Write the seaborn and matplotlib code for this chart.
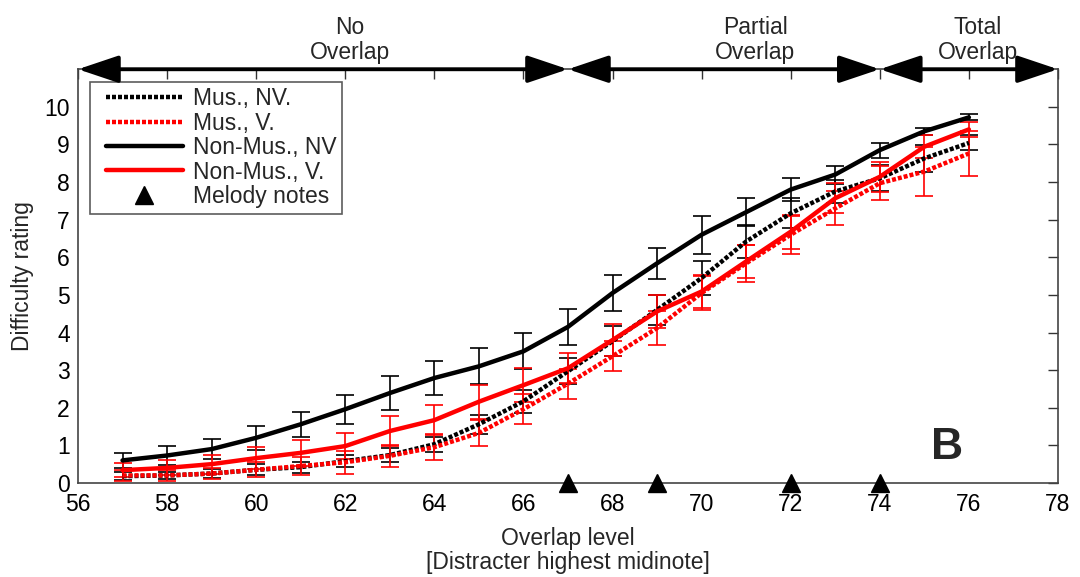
import numpy as np
import pandas as pd
import matplotlib
matplotlib.use("Agg")
import matplotlib.pyplot as plt
from matplotlib.lines import Line2D
from matplotlib.legend_handler import HandlerLine2D
import seaborn as sns

# ---- data ----
overlap = [57, 58, 59, 60, 61, 62, 63, 64, 65, 66, 67, 68, 69, 70, 71, 72, 73, 74, 75, 76]

mus_nv = [0.18, 0.2, 0.25, 0.35, 0.42, 0.58, 0.74, 1.03, 1.56, 2.17, 2.97, 3.77, 4.6, 5.45, 6.42, 7.17, 7.75, 8.1, 8.63, 9.04]
mus_nv_err = [0.1, 0.1, 0.12, 0.15, 0.15, 0.15, 0.18, 0.2, 0.25, 0.3, 0.35, 0.4, 0.4, 0.45, 0.45, 0.4, 0.3, 0.35, 0.35, 0.2]

mus_v = [0.2, 0.2, 0.25, 0.35, 0.45, 0.55, 0.72, 0.95, 1.33, 1.96, 2.64, 3.37, 4.12, 5.05, 5.84, 6.6, 7.3, 7.97, 8.28, 8.76]
mus_v_err = [0.15, 0.15, 0.15, 0.2, 0.25, 0.3, 0.3, 0.35, 0.35, 0.4, 0.4, 0.4, 0.45, 0.45, 0.5, 0.5, 0.45, 0.45, 0.65, 0.6]

nonmus_nv = [0.6, 0.73, 0.9, 1.2, 1.56, 1.96, 2.39, 2.79, 3.1, 3.5, 4.15, 5.05, 5.84, 6.6, 7.2, 7.8, 8.2, 8.85, 9.35, 9.72]
nonmus_nv_err = [0.19, 0.26, 0.27, 0.32, 0.33, 0.38, 0.46, 0.46, 0.48, 0.48, 0.48, 0.47, 0.42, 0.5, 0.38, 0.31, 0.24, 0.2, 0.1, 0.08]

nonmus_v = [0.34, 0.4, 0.5, 0.66, 0.8, 0.98, 1.38, 1.67, 2.16, 2.6, 3.05, 3.8, 4.56, 5.09, 5.89, 6.68, 7.57, 8.14, 8.94, 9.4]
nonmus_v_err = [0.18, 0.2, 0.25, 0.3, 0.35, 0.35, 0.4, 0.4, 0.45, 0.45, 0.4, 0.43, 0.45, 0.45, 0.45, 0.45, 0.4, 0.4, 0.3, 0.2]

melody_notes = [67, 69, 72, 74]

regions = ["No\nOverlap", "Partial\nOverlap", "Total\nOverlap"]
region_bounds = [(56, 67), (67, 74), (74, 78)]
region_label_x = [62.1, 71.2, 76.2]

series_names = ["Mus., NV.", "Mus., V.", "Non-Mus., NV", "Non-Mus., V."]
series_vals = [mus_nv, mus_v, nonmus_nv, nonmus_v]
series_errs = [mus_nv_err, mus_v_err, nonmus_nv_err, nonmus_v_err]
series_colors = ["black", "#ff0000", "black", "#ff0000"]
series_dotted = [True, True, False, False]

# ---- style ----
sns.set_theme(style="white")
plt.rcParams['font.family'] = ['Liberation Sans', 'DejaVu Sans']

fig = plt.figure(figsize=(10.8, 5.77), dpi=100)
ax = fig.add_axes([0.0722, 0.163, 0.9074, 0.717])

for name, vals, errs, col, dotted in zip(series_names, series_vals, series_errs, series_colors, series_dotted):
    ax.errorbar(overlap, vals, yerr=errs, fmt='none', ecolor=col, elinewidth=1.2,
                capsize=6.5, capthick=1.2, zorder=2)
for name, vals, errs, col, dotted in zip(series_names, series_vals, series_errs, series_colors, series_dotted):
    d = pd.DataFrame({"x": overlap, "y": vals})
    ls = (0, (0.9, 0.45)) if dotted else '-'
    sns.lineplot(data=d, x="x", y="y", ax=ax, color=col, linewidth=3.2,
                 linestyle=ls, label=name, zorder=3)

ax.plot(melody_notes, [0] * len(melody_notes), linestyle='none', marker='^',
        color='black', markersize=13, clip_on=False, zorder=5, label="Melody notes")

ax.set_xlim(56, 78)
ax.set_ylim(0, 11)
ax.set_xticks(np.arange(56, 79, 2))
ax.set_yticks(np.arange(0, 11, 1))
ax.tick_params(axis='both', direction='in', length=7, width=1, colors='#333333',
               labelcolor='black', labelsize=16.5, top=True, right=True)
ax.tick_params(axis='x', pad=7)
ax.tick_params(axis='y', pad=6)
for s in ax.spines.values():
    s.set_color('#444444')
    s.set_linewidth(1.2)

ax.set_xlabel("Overlap level\n[Distracter highest midinote]", fontsize=16.5,
              labelpad=8, linespacing=1.08)
ax.set_ylabel("Difficulty rating", fontsize=16.5, labelpad=7)

leg = ax.legend(loc='upper left', bbox_to_anchor=(0.012, 0.97), fontsize=16.5,
                frameon=True, fancybox=False, edgecolor='#333333', handlelength=3.81,
                handletextpad=0.44, borderpad=0.25, labelspacing=0.06, borderaxespad=0,
                handler_map={Line2D: HandlerLine2D(xpad=0.45)})
leg.get_frame().set_linewidth(1.2)

# region arrows along the top
for (a, b) in region_bounds:
    ax.annotate('', xy=(b, 11), xytext=(a, 11), xycoords='data',
                arrowprops=dict(arrowstyle='<|-|>,head_length=1.25,head_width=0.42',
                                lw=2.8, color='black', shrinkA=0, shrinkB=0,
                                mutation_scale=20),
                annotation_clip=False, zorder=6)
for lab, xl in zip(regions, region_label_x):
    ax.text(xl, 11.13, lab, ha='center', va='bottom', fontsize=16.5,
            linespacing=1.15, clip_on=False)

ax.text(75.5, 0.95, "B", fontsize=32, fontweight='bold', ha='center', va='center')

fig.savefig("out.png", dpi=100)
